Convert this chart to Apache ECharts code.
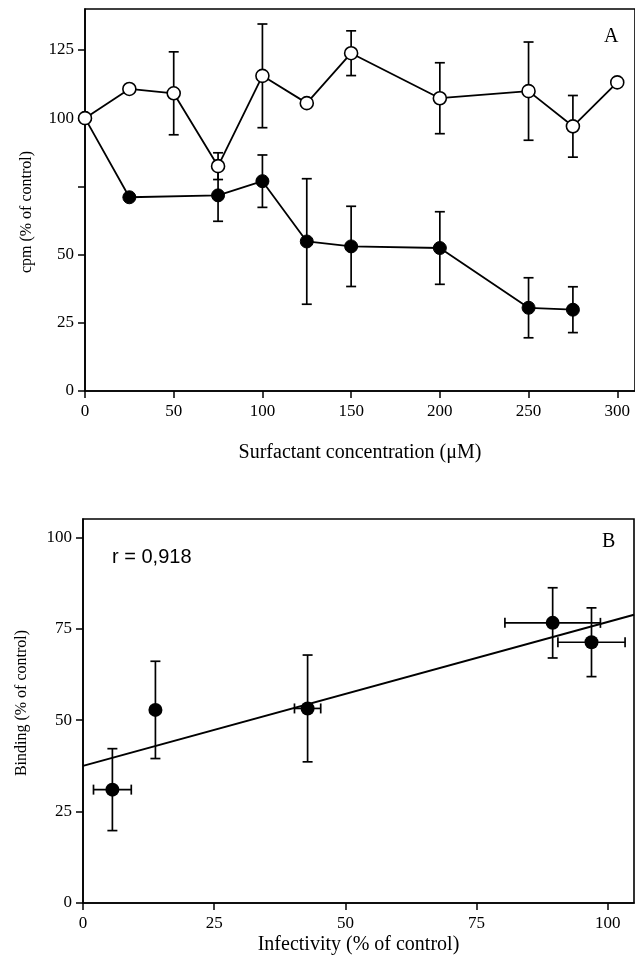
<!DOCTYPE html>
<html><head><meta charset="utf-8">
<script src="https://cdn.jsdelivr.net/npm/echarts@6/dist/echarts.min.js"></script>
<style>html,body{margin:0;padding:0;background:#fff}#c{width:635px;height:969px}</style>
</head><body><div id="c"></div>
<script>
// Panel A data
const concOpen = [0, 25, 50, 75, 100, 125, 150, 200, 250, 275, 300];
const openVals = [100, 110.7, 109.1, 82.4, 115.5, 105.5, 123.8, 107.3, 109.9, 97.0, 113.1];
const openErr = [0, 0, 15.2, 4.9, 19.0, 0, 8.2, 13.0, 18.0, 11.3, 0];
const concFilled = [0, 25, 75, 100, 125, 150, 200, 250, 275];
const filledVals = [100, 71.0, 71.7, 76.9, 54.8, 53.0, 52.4, 30.5, 29.8];
const filledErr = [0, 0, 9.5, 9.6, 23.0, 14.7, 13.3, 11.0, 8.4];
const xTicksA = [0, 50, 100, 150, 200, 250, 300];
const yTicksA = [0, 25, 50, 75, 100, 125];
const yLabelsA = [0, 25, 50, 100, 125];

// Panel B data
const infectivity = [5.6, 13.8, 42.8, 89.5, 96.9];
const infectivityErr = [3.6, 0, 2.5, 9.1, 6.4];
const binding = [31.0, 52.8, 53.2, 76.6, 71.3];
const bindingErr = [11.2, 13.3, 14.6, 9.6, 9.4];
const fitX = [0, 105];
const fitY = [37.5, 78.8];
const ticksB = [0, 25, 50, 75, 100];

const SERIF = "'Liberation Serif','Times New Roman',serif";
const SANS = "'Liberation Sans',Arial,sans-serif";
const lineStyle = { color: '#000', width: 1.8 };

function errRender(params, api) {
  const x = api.value(0), y = api.value(1), ex = api.value(2), ey = api.value(3);
  const cap = 5;
  const style = { stroke: '#000', lineWidth: 1.7, fill: null };
  const ch = [];
  if (ey > 0) {
    const t = api.coord([x, y + ey]), b = api.coord([x, y - ey]);
    ch.push({ type: 'line', shape: { x1: t[0], y1: t[1], x2: b[0], y2: b[1] }, style });
    ch.push({ type: 'line', shape: { x1: t[0] - cap, y1: t[1], x2: t[0] + cap, y2: t[1] }, style });
    ch.push({ type: 'line', shape: { x1: b[0] - cap, y1: b[1], x2: b[0] + cap, y2: b[1] }, style });
  }
  if (ex > 0) {
    const l = api.coord([x - ex, y]), r = api.coord([x + ex, y]);
    ch.push({ type: 'line', shape: { x1: l[0], y1: l[1], x2: r[0], y2: r[1] }, style });
    ch.push({ type: 'line', shape: { x1: l[0], y1: l[1] - cap, x2: l[0], y2: l[1] + cap }, style });
    ch.push({ type: 'line', shape: { x1: r[0], y1: r[1] - cap, x2: r[0], y2: r[1] + cap }, style });
  }
  return { type: 'group', children: ch };
}

const openData = concOpen.map((x, i) => [x, openVals[i]]);
const openErrData = concOpen.map((x, i) => [x, openVals[i], 0, openErr[i]]);
const filledData = concFilled.map((x, i) => [x, filledVals[i]]);
const filledErrData = concFilled.map((x, i) => [x, filledVals[i], 0, filledErr[i]]);
const bData = infectivity.map((x, i) => [x, binding[i]]);
const bErrData = infectivity.map((x, i) => [x, binding[i], infectivityErr[i], bindingErr[i]]);
const fitData = fitX.map((x, i) => [x, fitY[i]]);

const axisCommon = {
  axisLine: { show: true, lineStyle: { color: '#000', width: 1.6 } },
  axisTick: { show: true, inside: false, length: 7, lineStyle: { color: '#000', width: 1.5 } },
  splitLine: { show: false },
  nameTextStyle: { fontFamily: SERIF, color: '#000' }
};

const chart = echarts.init(document.getElementById('c'), null, { renderer: 'canvas' });
chart.setOption({
  animation: false,
  backgroundColor: '#fff',
  title: [
    { text: 'A', left: 599, top: 22, textStyle: { fontFamily: SERIF, fontSize: 20, fontWeight: 'normal', color: '#000' } },
    { text: 'B', left: 597, top: 527, textStyle: { fontFamily: SERIF, fontSize: 20, fontWeight: 'normal', color: '#000' } },
    { text: 'r = 0,918', left: 107, top: 542, textStyle: { fontFamily: SANS, fontSize: 20, fontWeight: 'normal', color: '#000' } }
  ],
  grid: [
    { left: 85, top: 9, width: 552, height: 382, show: true, borderColor: '#000', borderWidth: 1.6, backgroundColor: 'transparent' },
    { left: 83, top: 519, width: 551, height: 384, show: true, borderColor: '#000', borderWidth: 1.6, backgroundColor: 'transparent' }
  ],
  xAxis: [
    Object.assign({}, axisCommon, {
      type: 'value', gridIndex: 0, min: 0, max: 310, interval: 50,
      name: 'Surfactant concentration (\u03bcM)', nameLocation: 'middle', nameGap: 52,
      nameTextStyle: { fontFamily: SERIF, fontSize: 20, color: '#000' },
      axisTick: Object.assign({}, axisCommon.axisTick, { customValues: xTicksA }),
      axisLabel: { customValues: xTicksA, fontFamily: SERIF, fontSize: 17, color: '#000', margin: 12 }
    }),
    Object.assign({}, axisCommon, {
      type: 'value', gridIndex: 1, min: 0, max: 105, interval: 25,
      name: 'Infectivity (% of control)', nameLocation: 'middle', nameGap: 32,
      nameTextStyle: { fontFamily: SERIF, fontSize: 20, color: '#000' },
      axisTick: Object.assign({}, axisCommon.axisTick, { customValues: ticksB }),
      axisLabel: { customValues: ticksB, fontFamily: SERIF, fontSize: 17, color: '#000', margin: 12 }
    })
  ],
  yAxis: [
    Object.assign({}, axisCommon, {
      type: 'value', gridIndex: 0, min: 0, max: 140, interval: 25,
      name: 'cpm (% of control)', nameLocation: 'middle', nameGap: 50,
      nameTextStyle: { fontFamily: SERIF, fontSize: 16, color: '#000', padding: [0, 24, 0, 0] },
      axisTick: Object.assign({}, axisCommon.axisTick, { customValues: yTicksA }),
      axisLabel: { customValues: yLabelsA, fontFamily: SERIF, fontSize: 17, color: '#000', margin: 11 }
    }),
    Object.assign({}, axisCommon, {
      type: 'value', gridIndex: 1, min: 0, max: 105, interval: 25,
      name: 'Binding (% of control)', nameLocation: 'middle', nameGap: 53,
      nameTextStyle: { fontFamily: SERIF, fontSize: 16, color: '#000', padding: [0, 0, 0, 16] },
      axisTick: Object.assign({}, axisCommon.axisTick, { customValues: ticksB }),
      axisLabel: { customValues: ticksB, fontFamily: SERIF, fontSize: 17, color: '#000', margin: 11 }
    })
  ],
  series: [
    { type: 'custom', name: 'filled err', xAxisIndex: 0, yAxisIndex: 0, data: filledErrData, renderItem: errRender, encode: { x: 0, y: 1 }, z: 1, silent: true },
    { type: 'custom', name: 'open err', xAxisIndex: 0, yAxisIndex: 0, data: openErrData, renderItem: errRender, encode: { x: 0, y: 1 }, z: 1, silent: true },
    { type: 'line', name: 'filled', xAxisIndex: 0, yAxisIndex: 0, data: filledData, symbol: 'circle', symbolSize: 13,
      showAllSymbol: true, lineStyle: lineStyle, itemStyle: { color: '#000', borderColor: '#000', borderWidth: 1 }, z: 2 },
    { type: 'line', name: 'open', xAxisIndex: 0, yAxisIndex: 0, data: openData, symbol: 'circle', symbolSize: 13,
      showAllSymbol: true, lineStyle: lineStyle, itemStyle: { color: '#fff', borderColor: '#000', borderWidth: 1.6 }, z: 3 },
    { type: 'line', name: 'fit', xAxisIndex: 1, yAxisIndex: 1, data: fitData, symbol: 'none', lineStyle: { color: '#000', width: 2 }, z: 2 },
    { type: 'custom', name: 'B err', xAxisIndex: 1, yAxisIndex: 1, data: bErrData, renderItem: errRender, encode: { x: 0, y: 1 }, z: 3, silent: true },
    { type: 'scatter', name: 'B points', xAxisIndex: 1, yAxisIndex: 1, data: bData, symbol: 'circle', symbolSize: 14,
      itemStyle: { color: '#000', opacity: 1 }, z: 4 }
  ]
});
</script>
</body></html>
